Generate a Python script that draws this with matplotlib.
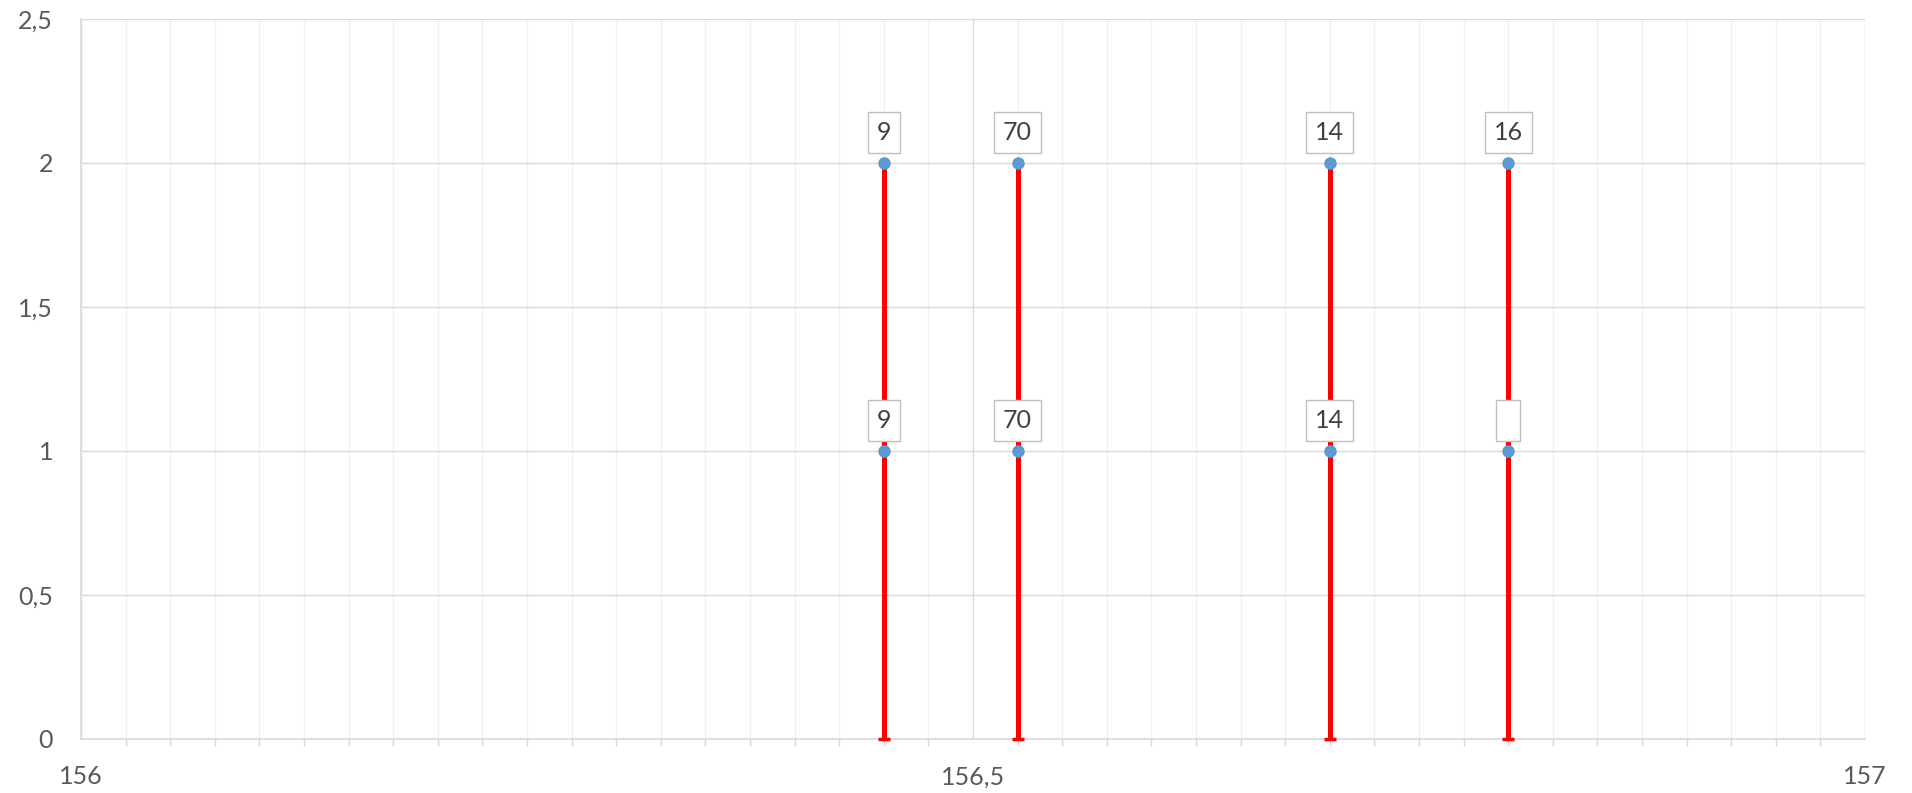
import numpy as np
import matplotlib
matplotlib.use("Agg")
import matplotlib.pyplot as plt
from matplotlib.ticker import MultipleLocator, FuncFormatter

# data
x_pos = [156.45, 156.525, 156.7, 156.8]
y_top = [2, 2, 2, 2]
y_mid = [1, 1, 1, 1]
labels_top = ["9", "70", "14", "16"]
labels_mid = ["9", "70", "14", " "]

plt.rcParams['font.family'] = ['Lato', 'DejaVu Sans']

fig = plt.figure(figsize=(19.12, 7.93), dpi=100)
ax = fig.add_axes([81 / 1912, 1 - 739 / 793, (1865 - 81) / 1912, (739 - 19) / 793])

# red vertical lines from 0 to 2
ax.vlines(x_pos, 0, y_top, color="#ff0000", lw=3.6, zorder=3)
ax.plot(x_pos, [0] * len(x_pos), ls="none", marker="_", ms=8, mew=2.5,
        color="#ff0000", zorder=3, clip_on=False)

# blue points
ax.plot(x_pos, y_top, ls="none", marker="o", ms=8, color="#5b9bd5",
        mec="#5b9bd5", zorder=4)
ax.plot(x_pos, y_mid, ls="none", marker="o", ms=8, color="#5b9bd5",
        mec="#5b9bd5", zorder=4)

box = dict(boxstyle="square,pad=0.36", fc="white", ec="#bfbfbf", lw=1)
for xs, ys, labs in [(x_pos, y_top, labels_top), (x_pos, y_mid, labels_mid)]:
    for x, y, t in zip(xs, ys, labs):
        ax.annotate(t, (x, y), xytext=(0, 13.5), textcoords="offset points",
                    ha="center", va="bottom", fontsize=18, color="#404040",
                    bbox=box, zorder=5)

ax.set_xlim(156, 157)
ax.set_ylim(0, 2.5)
ax.xaxis.set_major_locator(MultipleLocator(0.5))
ax.xaxis.set_minor_locator(MultipleLocator(0.025))
ax.yaxis.set_major_locator(MultipleLocator(0.5))

fmt = FuncFormatter(lambda v, p: ("%g" % v).replace(".", ","))
ax.xaxis.set_major_formatter(fmt)
ax.yaxis.set_major_formatter(fmt)

ax.grid(which="major", axis="both", color="#d9d9d9", lw=1, zorder=0)
ax.grid(which="minor", axis="x", color="#f0f0f0", lw=1, zorder=0)
ax.set_axisbelow(True)

for s in ["top", "right"]:
    ax.spines[s].set_visible(False)
for s in ["left", "bottom"]:
    ax.spines[s].set_color("#d9d9d9")
    ax.spines[s].set_linewidth(1.2)

ax.tick_params(axis="y", length=0, pad=20, labelsize=18, labelcolor="#595959")
ax.tick_params(axis="x", which="major", length=0, pad=19, labelsize=18,
               labelcolor="#595959")
ax.tick_params(axis="x", which="minor", length=5, width=1, color="#d9d9d9",
               direction="out")

fig.savefig("out.png", dpi=100)
